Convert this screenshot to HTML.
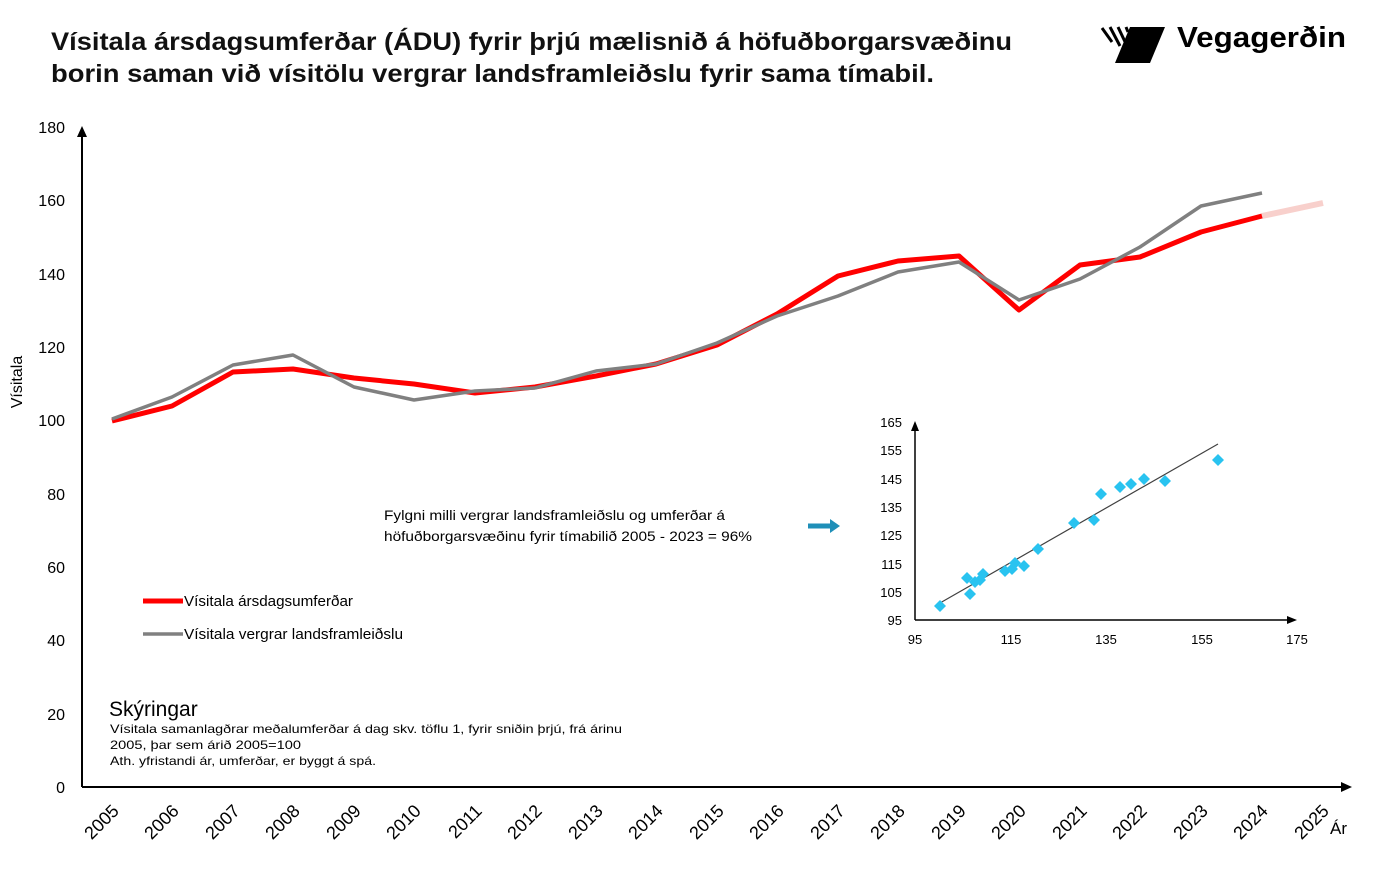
<!DOCTYPE html>
<html><head><meta charset="utf-8"><style>
body{margin:0;background:#fff;width:1373px;height:874px;overflow:hidden;font-family:"Liberation Sans",sans-serif}
</style></head><body>
<svg width="1373" height="874" xmlns="http://www.w3.org/2000/svg" font-family="Liberation Sans, sans-serif">
<text x="51" y="50" font-size="25" font-weight="bold" fill="#111" textLength="961" lengthAdjust="spacingAndGlyphs">Vísitala ársdagsumferðar (ÁDU) fyrir þrjú mælisnið á höfuðborgarsvæðinu</text>
<text x="51" y="82" font-size="25" font-weight="bold" fill="#111" textLength="883" lengthAdjust="spacingAndGlyphs">borin saman við vísitölu vergrar landsframleiðslu fyrir sama tímabil.</text>
<!-- logo -->
<polygon points="1130,27 1165,27 1150,63 1115,63" fill="#000"/>
<g stroke="#000" stroke-width="3"><line x1="1102" y1="28" x2="1112" y2="42"/><line x1="1110" y1="27" x2="1120" y2="46"/><line x1="1118" y1="27" x2="1127" y2="46"/><line x1="1126" y1="27" x2="1128" y2="32"/></g>
<text x="1177" y="47" font-size="29" font-weight="bold" fill="#000" textLength="169" lengthAdjust="spacingAndGlyphs">Vegagerðin</text>
<!-- axes -->
<line x1="82" y1="787" x2="82" y2="133" stroke="#000" stroke-width="2"/>
<polygon points="82,126 77,137 87,137" fill="#000"/>
<line x1="82" y1="787" x2="1343" y2="787" stroke="#000" stroke-width="2"/>
<polygon points="1352,787 1341,782 1341,792" fill="#000"/>
<g font-size="16" fill="#000" text-anchor="end">
<text x="65" y="133">180</text><text x="65" y="206">160</text><text x="65" y="280">140</text><text x="65" y="353">120</text><text x="65" y="426">100</text><text x="65" y="500">80</text><text x="65" y="573">60</text><text x="65" y="646">40</text><text x="65" y="720">20</text><text x="65" y="793">0</text>
</g>
<text x="22" y="382" font-size="16" transform="rotate(-90 22 382)" text-anchor="middle">Vísitala</text>
<g font-size="18" fill="#000" text-anchor="end">
<text transform="translate(120,812) rotate(-45)">2005</text>
<text transform="translate(180,812) rotate(-45)">2006</text>
<text transform="translate(241,812) rotate(-45)">2007</text>
<text transform="translate(301,812) rotate(-45)">2008</text>
<text transform="translate(362,812) rotate(-45)">2009</text>
<text transform="translate(422,812) rotate(-45)">2010</text>
<text transform="translate(483,812) rotate(-45)">2011</text>
<text transform="translate(543,812) rotate(-45)">2012</text>
<text transform="translate(604,812) rotate(-45)">2013</text>
<text transform="translate(664,812) rotate(-45)">2014</text>
<text transform="translate(725,812) rotate(-45)">2015</text>
<text transform="translate(785,812) rotate(-45)">2016</text>
<text transform="translate(846,812) rotate(-45)">2017</text>
<text transform="translate(906,812) rotate(-45)">2018</text>
<text transform="translate(967,812) rotate(-45)">2019</text>
<text transform="translate(1027,812) rotate(-45)">2020</text>
<text transform="translate(1088,812) rotate(-45)">2021</text>
<text transform="translate(1148,812) rotate(-45)">2022</text>
<text transform="translate(1209,812) rotate(-45)">2023</text>
<text transform="translate(1269,812) rotate(-45)">2024</text>
<text transform="translate(1330,812) rotate(-45)">2025</text>
</g>
<text x="1330" y="834" font-size="17">Ár</text>
<!-- series -->
<line x1="1262" y1="216" x2="1323" y2="203" stroke="#f8d0cc" stroke-width="6"/>
<polyline fill="none" stroke="#ff0000" stroke-width="5" stroke-linejoin="round" points="112,421 172,406 233,372 293,369 354,378 414,384 475,393 535,387 596,376 656,364 717,345 777,314 838,276 898,261 959,256 1019,310 1080,265 1140,257 1201,232 1262,216"/>
<polyline fill="none" stroke="#808080" stroke-width="3.5" stroke-linejoin="round" points="112,419 172,397 233,365 293,355 354,387 414,400 475,391 535,388 596,371 656,364 717,343 777,316 838,296 898,272 959,262 1019,300 1080,279 1140,247 1201,206 1262,193"/>
<!-- legend -->
<line x1="143" y1="601" x2="183" y2="601" stroke="#ff0000" stroke-width="5"/>
<text x="184" y="606" font-size="15" textLength="169" lengthAdjust="spacingAndGlyphs">Vísitala ársdagsumferðar</text>
<line x1="143" y1="634" x2="183" y2="634" stroke="#808080" stroke-width="3.5"/>
<text x="184" y="639" font-size="15" textLength="219" lengthAdjust="spacingAndGlyphs">Vísitala vergrar landsframleiðslu</text>
<text x="109" y="716" font-size="21">Skýringar</text>
<g font-size="12"><text x="110" y="733" textLength="512" lengthAdjust="spacingAndGlyphs">Vísitala samanlagðrar meðalumferðar á dag  skv. töflu 1, fyrir sniðin  þrjú, frá árinu</text><text x="110" y="749" textLength="191" lengthAdjust="spacingAndGlyphs">2005, þar sem árið 2005=100</text><text x="110" y="765" textLength="266" lengthAdjust="spacingAndGlyphs">Ath. yfristandi ár, umferðar, er byggt á spá.</text></g>
<text x="384" y="520" font-size="14" textLength="341" lengthAdjust="spacingAndGlyphs">Fylgni milli vergrar landsframleiðslu og umferðar á</text>
<text x="384" y="541" font-size="14" textLength="368" lengthAdjust="spacingAndGlyphs">höfuðborgarsvæðinu fyrir tímabilið 2005 - 2023 = 96%</text>
<line x1="808" y1="526" x2="832" y2="526" stroke="#1f8fb8" stroke-width="5"/>
<polygon points="840,526 830,519 830,533" fill="#1f8fb8"/>
<!-- inset -->
<line x1="915" y1="620" x2="915" y2="428" stroke="#000" stroke-width="1.5"/>
<polygon points="915,421 911,431 919,431" fill="#000"/>
<line x1="915" y1="620" x2="1290" y2="620" stroke="#000" stroke-width="1.5"/>
<polygon points="1297,620 1287,616 1287,624" fill="#000"/>
<g font-size="13" text-anchor="end"><text x="902" y="427">165</text><text x="902" y="455">155</text><text x="902" y="484">145</text><text x="902" y="512">135</text><text x="902" y="540">125</text><text x="902" y="569">115</text><text x="902" y="597">105</text><text x="902" y="625">95</text></g>
<g font-size="13" text-anchor="middle"><text x="915" y="644">95</text><text x="1011" y="644">115</text><text x="1106" y="644">135</text><text x="1202" y="644">155</text><text x="1297" y="644">175</text></g>
<line x1="940" y1="603" x2="1218" y2="444" stroke="#404040" stroke-width="1.2"/>
<g fill="#29c3f0">
<path d="M940,600 l6,6 -6,6 -6,-6z"/><path d="M967,572 l6,6 -6,6 -6,-6z"/><path d="M970,588 l6,6 -6,6 -6,-6z"/><path d="M975,576 l6,6 -6,6 -6,-6z"/><path d="M983,568 l6,6 -6,6 -6,-6z"/><path d="M980,574 l6,6 -6,6 -6,-6z"/><path d="M1005,565 l6,6 -6,6 -6,-6z"/><path d="M1012,563 l6,6 -6,6 -6,-6z"/><path d="M1015,557 l6,6 -6,6 -6,-6z"/><path d="M1024,560 l6,6 -6,6 -6,-6z"/><path d="M1038,543 l6,6 -6,6 -6,-6z"/><path d="M1074,517 l6,6 -6,6 -6,-6z"/><path d="M1094,514 l6,6 -6,6 -6,-6z"/><path d="M1101,488 l6,6 -6,6 -6,-6z"/><path d="M1120,481 l6,6 -6,6 -6,-6z"/><path d="M1131,478 l6,6 -6,6 -6,-6z"/><path d="M1144,473 l6,6 -6,6 -6,-6z"/><path d="M1165,475 l6,6 -6,6 -6,-6z"/><path d="M1218,454 l6,6 -6,6 -6,-6z"/>
</g>
</svg>
</body></html>
